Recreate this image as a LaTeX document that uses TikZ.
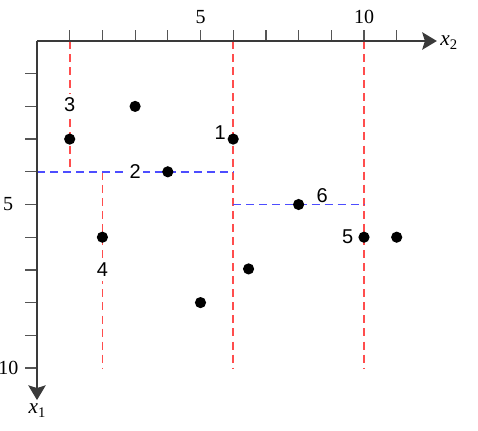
\documentclass[tikz,border=0pt]{standalone}
\usepackage{fontspec}
\setmainfont{Liberation Serif}
\newfontfamily\ptfont{Liberation Sans}
\usetikzlibrary{arrows.meta}
\definecolor{axisgray}{HTML}{3A3A3A}
\definecolor{tickgray}{HTML}{555555}
\definecolor{splitred}{HTML}{FF4D4D}
\definecolor{splitblue}{HTML}{4D4DFF}
\newcommand{\axlab}[1]{\textit{x}\raisebox{-0.35ex}{\fontsize{11}{11}\selectfont #1}}
\tikzset{
  axisline/.style={draw=axisgray, line width=1.6pt, -{Stealth[length=11pt,width=13pt,inset=2pt]}},
  tickline/.style={draw=tickgray, line width=0.9pt},
  ticklabel/.style={font=\fontsize{15}{15}\selectfont, inner sep=0pt},
  axislabel/.style={font=\fontsize{16}{16}\selectfont, inner sep=0pt},
  ptlabel/.style={font=\ptfont\fontsize{15}{15}\selectfont, inner sep=0pt},
  masked/.style={fill=white, inner xsep=1.5pt, inner ysep=3pt},
  pt/.style={circle, fill=black, inner sep=0pt, minimum size=8.4pt},
  reddash/.style={draw=splitred, line width=1.3pt, dash pattern=on 6pt off 3.8pt},
  bluedash/.style={draw=splitblue, line width=1.3pt, dash pattern=on 6pt off 3.8pt}
}
\begin{document}
\begin{tikzpicture}[x=24.525pt,y=-24.525pt]
\useasboundingbox (-1.1315,-1.2538) rectangle (13.4862,11.9266);
% split coordinates
\coordinate (o) at (0,0);
\coordinate (xend) at (12.23,0);
\coordinate (yend) at (0,10.98);
\coordinate (r1a) at (1,0);  \coordinate (r1b) at (1,4);
\coordinate (r2a) at (2,4);  \coordinate (r2b) at (2,10);
\coordinate (r6a) at (6,0);  \coordinate (r6b) at (6,10);
\coordinate (r10a) at (10,0); \coordinate (r10b) at (10,10);
\coordinate (b4a) at (0,4);  \coordinate (b4b) at (6,4);
\coordinate (b5a) at (6,5);  \coordinate (b5b) at (10,5);
% dashed splits
\draw[reddash] (r1a) -- (r1b);
\draw[reddash] (r2a) -- (r2b);
\draw[reddash] (r6a) -- (r6b);
\draw[reddash] (r10a) -- (r10b);
\draw[bluedash] (b4a) -- (b4b);
\draw[bluedash] (b5a) -- (b5b);
% ticks
\foreach \i in {1,...,11} \draw[tickline] (\i,0) -- (\i,-0.336);
\foreach \i in {1,...,10} \draw[tickline] (0,\i) -- (-0.367,\i);
% axes
\draw[axisline] (o) -- (xend);
\draw[axisline] (o) -- (yend);
\node[axislabel, anchor=west] (lx2) at (12.33,0.05) {\axlab{2}};
\node[axislabel] (lx1) at (0,11.3) {\axlab{1}};
% tick labels
\node[ticklabel] (t5) at (5,-0.73) {5};
\node[ticklabel] (t10) at (10,-0.73) {10};
\node[ticklabel, anchor=east] (l5) at (-0.72,5) {5};
\node[ticklabel, anchor=east] (l10) at (-0.56,10) {10};
% points
\node[pt] (p3) at (1,3) {};
\node[pt] (pa) at (3,2) {};
\node[pt] (p1) at (6,3) {};
\node[pt] (p2) at (4,4) {};
\node[pt] (p4) at (2,6) {};
\node[pt] (p6) at (8,5) {};
\node[pt] (p5) at (10,6) {};
\node[pt] (pb) at (11,6) {};
\node[pt] (pc) at (6.47,6.97) {};
\node[pt] (pd) at (5,8) {};
% point labels
\node[ptlabel, masked] (n3) at (1,1.96) {3};
\node[ptlabel] (n1) at (5.6,2.8) {1};
\node[ptlabel, masked, inner ysep=0pt] (n2) at (3.0,4.0) {2};
\node[ptlabel, masked] (n4) at (2,7.0) {4};
\node[ptlabel] (n6) at (8.72,4.72) {6};
\node[ptlabel] (n5) at (9.5,6.0) {5};
\end{tikzpicture}
\end{document}
